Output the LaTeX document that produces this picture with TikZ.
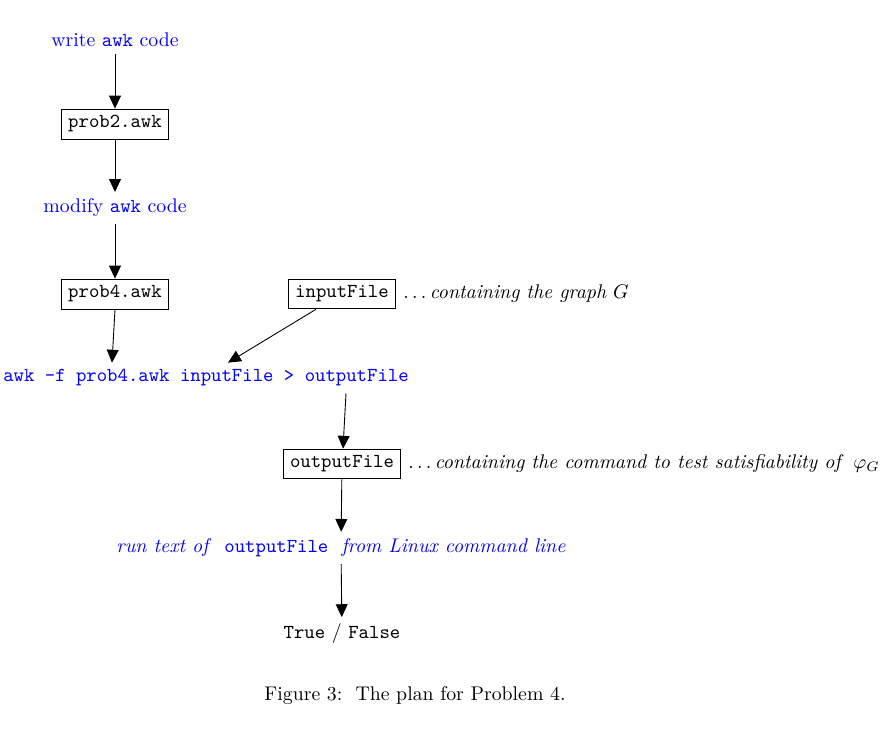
\documentclass[tikz,border=0pt]{standalone}
\usetikzlibrary{arrows.meta,calc}
\begin{document}
\begin{tikzpicture}[x=0.505pt,y=-0.505pt,
  arr/.style={-{Triangle[length=6.5pt,width=6pt]},line width=0.45pt},
  filebox/.style={draw,line width=0.45pt,font=\ttfamily},
  blu/.style={text=blue},
  note/.style={anchor=west,inner sep=0pt}]
\useasboundingbox (0,0) rectangle (887,737);
\node[blu] (write) at (115,40) {write \texttt{awk} code};
\node[filebox] (p2) at (115,124) {prob2.awk};
\node[blu] (modify) at (115,208) {modify \texttt{awk} code};
\node[filebox] (p4) at (115,294) {prob4.awk};
\node[filebox] (in) at (342,294) {inputFile};
\node[note] (innote) at (403,294) {$\ldots$\,\textit{containing the graph} $G$};
\node[blu,font=\ttfamily] (cmd) at (206,378) {awk -f prob4.awk inputFile > outputFile};
\node[filebox] (out) at (342,464) {outputFile};
\node[note] (outnote) at (408,464) {$\ldots$\,\textit{containing the command to test satisfiability of}\, $\varphi_G$};
\node[blu] (run) at (341,548) {\textit{run text of}\ \ \texttt{outputFile}\ \ \textit{from Linux command line}};
\node (tf) at (342,634) {\texttt{True} / \texttt{False}};
\node (cap) at (415,696) {Figure 3:\ \ The plan for Problem 4.};
\draw[arr] (write) -- (p2);
\draw[arr] (p2) -- (modify);
\draw[arr] (modify) -- (p4);
\draw[arr] (p4.south) -- ($(p4.south |- cmd.north)+(-3,0)$);
\draw[arr] ($(in.south)+(-26,0)$) -- ($(cmd.north)+(22,0)$);
\draw[arr] ($(cmd.south)+(140,0)$) -- ($(out.north)+(1,0)$);
\draw[arr] (out) -- (run);
\draw[arr] (run) -- (tf);
\end{tikzpicture}
\end{document}
